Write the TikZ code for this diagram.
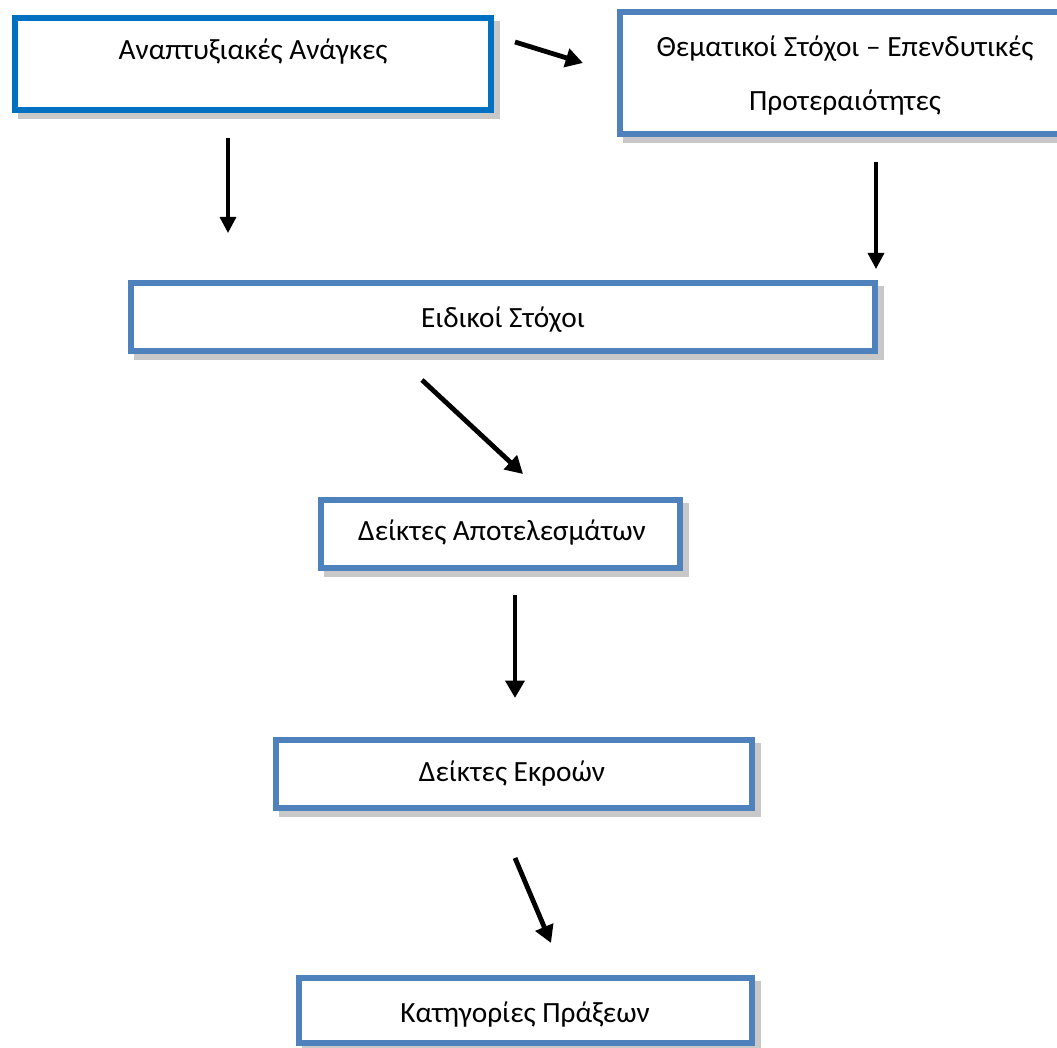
\documentclass[tikz,border=0pt]{standalone}
\usepackage{fontspec}
\setmainfont{Carlito}
\usetikzlibrary{arrows.meta,backgrounds}
\definecolor{boxblueA}{HTML}{0070C0}
\definecolor{boxblueB}{HTML}{4F81BD}
\definecolor{shadowc}{HTML}{C8C8C8}
\tikzset{
  boxbase/.style={draw, fill=white, line width=4.5pt, rectangle, inner sep=0pt},
  boxA/.style={boxbase, draw=boxblueA},
  boxB/.style={boxbase, draw=boxblueB},
  txt/.style={anchor=base, inner sep=0pt, font=\fontsize{22}{26}\selectfont},
  thinarrow/.style={line width=2.4pt, -{Triangle[length=12pt,width=12pt]}},
  thickarrow/.style={line width=3.6pt, -{Triangle[length=13pt,width=14pt]}},
}
\begin{document}
\begin{tikzpicture}[x=0.75pt,y=-0.75pt]
\useasboundingbox (0,0) rectangle (1057,1048);
% boxes
\node[boxA, minimum width=357pt, minimum height=69pt] (b1) at (253,64) {};
\node[boxB, minimum width=337.5pt, minimum height=91.5pt] (b2) at (845,73) {};
\node[boxB, minimum width=558pt, minimum height=51pt] (b3) at (503,317) {};
\node[boxB, minimum width=269.25pt, minimum height=51pt] (b4) at (500.5,534) {};
\node[boxB, minimum width=357pt, minimum height=51pt] (b5) at (514,774) {};
\node[boxB, minimum width=339.75pt, minimum height=48.75pt] (b6) at (525.5,1010.5) {};
% shadows
\begin{scope}[on background layer]
\foreach \b in {b1,b2,b3,b4,b5,b6}{
  \fill[shadowc] ([shift={(6,6)}]\b.north west) rectangle ([shift={(6,6)}]\b.south east);
}
\end{scope}
% texts
\node[txt] (t1) at (253,60) {Αναπτυξιακές Ανάγκες};
\node[txt] (t2a) at (845,57) {Θεματικοί Στόχοι – Επενδυτικές};
\node[txt] (t2b) at (845,111) {Προτεραιότητες};
\node[txt] (t3) at (503,328) {Ειδικοί Στόχοι};
\node[txt] (t4) at (502,540) {Δείκτες Αποτελεσμάτων};
\node[txt] (t5) at (512,781) {Δείκτες Εκροών};
\node[txt] (t6) at (525,1022) {Κατηγορίες Πράξεων};
% arrow end points
\coordinate (a1s) at (515,42);  \coordinate (a1e) at (583,63);
\coordinate (a2s) at (228,138); \coordinate (a2e) at (228,233);
\coordinate (a3s) at (876,162); \coordinate (a3e) at (876,269);
\coordinate (a4s) at (422,380); \coordinate (a4e) at (523,474);
\coordinate (a5s) at (515,595); \coordinate (a5e) at (515,698);
\coordinate (a6s) at (515,858); \coordinate (a6e) at (551,943);
\draw[thickarrow] (a1s) -- (a1e);
\draw[thinarrow] (a2s) -- (a2e);
\draw[thinarrow] (a3s) -- (a3e);
\draw[thickarrow] (a4s) -- (a4e);
\draw[thickarrow] (a5s) -- (a5e);
\draw[thickarrow] (a6s) -- (a6e);
\end{tikzpicture}
\end{document}
